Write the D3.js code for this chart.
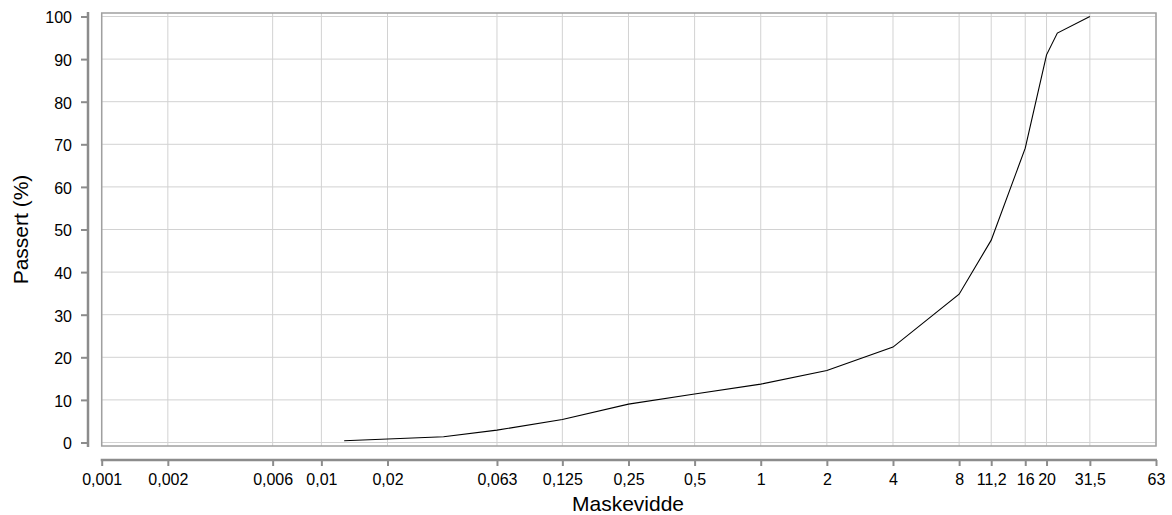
<!DOCTYPE html>
<html>
<head>
<meta charset="utf-8">
<script src="https://cdn.jsdelivr.net/npm/d3@7"></script>
<style>
  body { margin: 0; background: #fff; }
  svg { font-family: "Liberation Sans", Arial, sans-serif; }
  .tick text { font-size: 16px; fill: #000; }
</style>
</head>
<body>
<svg width="1172" height="515"></svg>
<script>
// sieve sizes (mm) and passing percentages
const maskevidde = [0.0127, 0.036, 0.063, 0.125, 0.25, 0.5, 1, 2, 4, 8, 11.2, 16, 20, 22.4, 31.5];
const passert = [0.4, 1.35, 2.9, 5.4, 9.0, 11.4, 13.7, 16.9, 22.4, 34.8, 47.5, 69.1, 91.0, 96.1, 100];

const xTicks = [0.001, 0.002, 0.006, 0.01, 0.02, 0.063, 0.125, 0.25, 0.5, 1, 2, 4, 8, 11.2, 16, 20, 31.5, 63];
const yTicks = [0, 10, 20, 30, 40, 50, 60, 70, 80, 90, 100];

const svg = d3.select('svg');

const plotLeft = 101.7, plotRight = 1156;
const plotTop = 16.5, plotBottom = 442.5;
const pad = 3.5;

const xscale = d3.scaleLog()
    .domain([0.001, 63])
    .range([plotLeft, plotRight]);

const yscale = d3.scaleLinear()
    .domain([0, 100])
    .range([plotBottom, plotTop]);

const fmt = d => String(d).replace('.', ',');

// gridlines
const grid = svg.append('g');
grid.selectAll('.vg')
    .data(xTicks)
    .enter().append('line')
    .attr('x1', d => xscale(d)).attr('x2', d => xscale(d))
    .attr('y1', plotTop - pad).attr('y2', plotBottom + pad)
    .attr('stroke', '#d2d2d2').attr('stroke-width', 1);
grid.selectAll('.hg')
    .data(yTicks)
    .enter().append('line')
    .attr('x1', plotLeft).attr('x2', plotRight)
    .attr('y1', d => yscale(d)).attr('y2', d => yscale(d))
    .attr('stroke', '#d2d2d2').attr('stroke-width', 1);

// plot frame
svg.append('rect')
    .attr('x', plotLeft)
    .attr('y', plotTop - pad)
    .attr('width', plotRight - plotLeft)
    .attr('height', plotBottom - plotTop + 2 * pad)
    .attr('fill', 'none')
    .attr('stroke', '#a0a0a0')
    .attr('stroke-width', 1.5);

// y axis (offset to the left of the frame)
const yaxisG = svg.append('g')
    .attr('transform', 'translate(88,0)')
    .call(d3.axisLeft(yscale).tickValues(yTicks).tickSize(7).tickPadding(9).tickSizeOuter(0));
yaxisG.select('.domain')
    .attr('d', 'M0,' + (plotTop - pad - 1) + 'V' + (plotBottom + pad + 1))
    .attr('stroke', '#8c8c8c').attr('stroke-width', 2.5);
yaxisG.selectAll('.tick line').attr('stroke', '#8c8c8c').attr('stroke-width', 2);
yaxisG.selectAll('.tick text').attr('dy', '0.4em');

// x axis (offset below the frame)
const xaxisG = svg.append('g')
    .attr('transform', 'translate(0,460)')
    .call(d3.axisBottom(xscale).tickValues(xTicks).tickFormat(fmt).tickSize(6).tickPadding(8).tickSizeOuter(0));
xaxisG.select('.domain')
    .attr('d', 'M' + (plotLeft - 1) + ',0H' + (plotRight + 1))
    .attr('stroke', '#8c8c8c').attr('stroke-width', 2.5);
xaxisG.selectAll('.tick line').attr('stroke', '#8c8c8c').attr('stroke-width', 2);

// curve
const points = maskevidde.map((m, i) => ({ m: m, p: passert[i] }));
const line = d3.line()
    .x(d => xscale(d.m))
    .y(d => yscale(d.p));

svg.append('path')
    .datum(points)
    .attr('d', line)
    .attr('fill', 'none')
    .attr('stroke', '#000')
    .attr('stroke-width', 1.1);

// axis titles
svg.append('text')
    .attr('x', 628)
    .attr('y', 511)
    .attr('text-anchor', 'middle')
    .attr('font-size', 21)
    .text('Maskevidde');

svg.append('text')
    .attr('transform', 'translate(28,' + ((plotTop + plotBottom) / 2) + ') rotate(-90)')
    .attr('text-anchor', 'middle')
    .attr('font-size', 21)
    .text('Passert (%)');
</script>
</body>
</html>
